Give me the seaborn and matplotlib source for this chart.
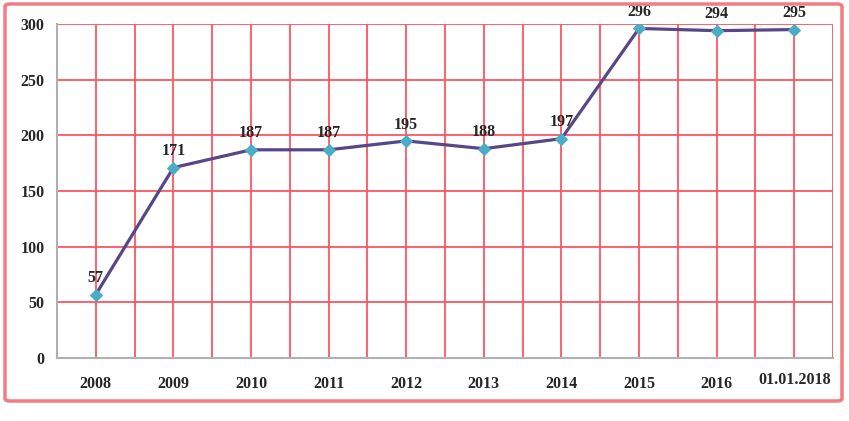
import matplotlib as mpl
mpl.use('Agg')
import matplotlib.pyplot as plt
from matplotlib.patches import FancyBboxPatch
import seaborn as sns
import pandas as pd
import numpy as np

years = ['2008', '2009', '2010', '2011', '2012', '2013', '2014', '2015', '2016', '01.01.2018']
values = [57, 171, 187, 187, 195, 188, 197, 296, 294, 295]

sns.set_style('white')
plt.rcParams['font.family'] = ['Liberation Serif', 'DejaVu Serif']
plt.rcParams['font.weight'] = 'bold'

df = pd.DataFrame({'pos': np.arange(len(years)), 'value': values})

fig = plt.figure(figsize=(8.49, 4.21), dpi=100)
ax = fig.add_axes([57/849, 1 - 358/421, (833 - 57)/849, (358 - 24)/421])

grid_red = '#FF5561'
sns.lineplot(data=df, x='pos', y='value', ax=ax, color='#584787', linewidth=2.3,
             marker='D', markersize=6.5, markerfacecolor='#4BACC6', markeredgecolor='#4BACC6',
             zorder=5)

# grid at every half category
ax.set_xlim(-0.5, len(years) - 0.5)
ax.set_ylim(0, 300)
ax.set_xticks(np.arange(len(years)))
ax.set_xticklabels(years)
ax.set_xticks(np.arange(-0.5, len(years), 1), minor=True)
ax.set_yticks(np.arange(0, 301, 50))
ax.grid(True, which='both', axis='x', color=grid_red, linewidth=1.3)
ax.grid(True, which='major', axis='y', color=grid_red, linewidth=1.3)
ax.set_axisbelow(True)

ax.tick_params(axis='x', which='major', length=0, pad=13, labelsize=11.5)
ax.tick_params(axis='x', which='minor', length=4, color='#B0B0B0', width=1.2, direction='out')
ax.tick_params(axis='y', length=4, color='#B0B0B0', width=1.2, labelsize=11.5, pad=5)
ax.get_xticklabels()[-1].set_y(0.012)

for s in ['top', 'right']:
    ax.spines[s].set_visible(False)
for s in ['left', 'bottom']:
    ax.spines[s].set_color('#B0B0B0')
    ax.spines[s].set_linewidth(1.5)

ax.set_xlabel('')
ax.set_ylabel('')

for x, v in zip(df['pos'], df['value']):
    ax.annotate(str(v), (x, v), xytext=(0, 6), textcoords='offset points',
                ha='center', va='bottom', fontsize=11.5, fontweight='bold', zorder=6)

frame = FancyBboxPatch((5/849, 1 - 401/421), (842 - 5)/849, (401 - 4)/421,
                       boxstyle='round,pad=0,rounding_size=0.006', transform=fig.transFigure,
                       facecolor='none', edgecolor='#F27C80', linewidth=2.5)
fig.patches.append(frame)

fig.savefig('out.png', dpi=100)
